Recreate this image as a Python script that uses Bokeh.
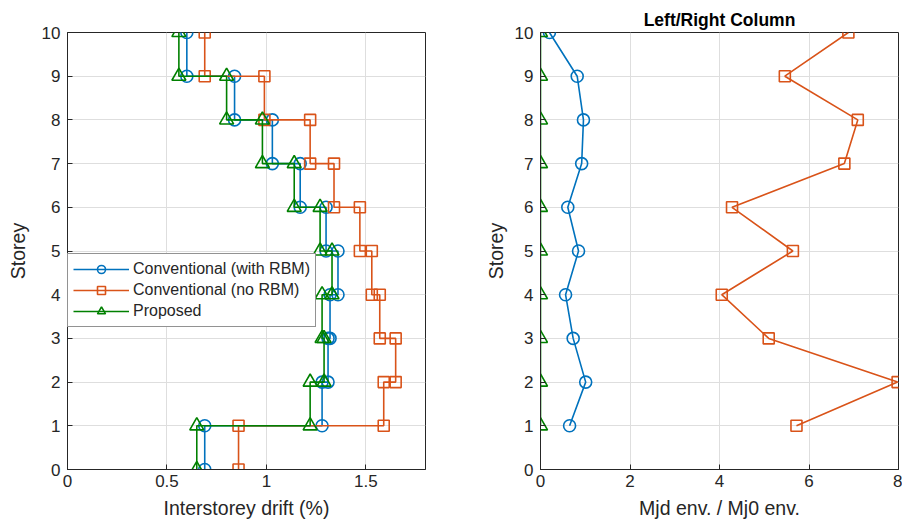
from bokeh.plotting import figure
from bokeh.models import FixedTicker, Legend, LegendItem, Range1d, Title
from bokeh.layouts import row
from bokeh.embed import file_html
from bokeh.resources import INLINE

# ---------------- data ----------------
storeys = list(range(0, 11))
drift_ticks = [0, 0.5, 1, 1.5]
drift_tick_labels = {0: "0", 0.5: "0.5", 1: "1", 1.5: "1.5"}
# interstorey drift (%) of storey segments 1..10
drift_with_rbm = [0.69, 1.28, 1.31, 1.32, 1.36, 1.30, 1.17, 1.03, 0.84, 0.60]
drift_no_rbm = [0.86, 1.59, 1.65, 1.57, 1.53, 1.47, 1.34, 1.22, 0.99, 0.69]
drift_proposed = [0.65, 1.22, 1.29, 1.28, 1.33, 1.27, 1.14, 0.98, 0.80, 0.56]

ratio_storeys = list(range(1, 11))
ratio_ticks = [0, 2, 4, 6, 8]
ratio_with_rbm = [0.65, 1.01, 0.73, 0.56, 0.85, 0.61, 0.92, 0.96, 0.82, 0.20]
ratio_no_rbm = [5.72, 7.98, 5.10, 4.05, 5.64, 4.28, 6.79, 7.09, 5.46, 6.88]
ratio_proposed = [0.0, 0.0, 0.0, 0.0, 0.0, 0.0, 0.0, 0.0, 0.0, 0.0]

series_names = ["Conventional (with RBM)", "Conventional (no RBM)", "Proposed"]
colors = ["#0072BD", "#D95319", "#008000"]
markers = ["circle", "square", "triangle"]
marker_sizes = [12, 11, 14]

FONT = "Liberation Sans"
AX = "#262626"
GRID = "#dedede"


def step_points(drifts):
    xs, ys = [], []
    for i, d in enumerate(drifts):
        xs += [d, d]
        ys += [storeys[i], storeys[i + 1]]
    return xs, ys


def style(p, xticks, xlabel, ylabel_standoff):
    p.xaxis.ticker = FixedTicker(ticks=xticks)
    p.yaxis.ticker = FixedTicker(ticks=storeys)
    for ax in p.xaxis + p.yaxis:
        ax.axis_line_color = AX
        ax.major_tick_line_color = AX
        ax.major_tick_in = 5
        ax.major_tick_out = 0
        ax.minor_tick_line_color = None
        ax.major_label_text_font = FONT
        ax.major_label_text_font_size = "17px"
        ax.major_label_text_color = AX
        ax.axis_label_text_font = FONT
        ax.axis_label_text_font_size = "19.5px"
        ax.axis_label_text_font_style = "normal"
        ax.axis_label_text_color = AX
    p.xaxis.axis_label = xlabel
    p.yaxis.axis_label = "Storey"
    p.xaxis.major_label_standoff = 5
    p.xaxis.axis_label_standoff = 7
    p.yaxis.major_label_standoff = 7
    p.yaxis.axis_label_standoff = ylabel_standoff
    p.xgrid.ticker = FixedTicker(ticks=xticks)
    p.ygrid.ticker = FixedTicker(ticks=storeys)
    p.grid.grid_line_color = GRID
    p.outline_line_color = AX
    p.background_fill_color = "white"
    p.border_fill_color = "white"


# ---------------- left plot ----------------
p1 = figure(width=480, height=525, x_range=Range1d(0, 1.8), y_range=Range1d(0, 10),
            output_backend="svg", toolbar_location=None,
            min_border_left=67, min_border_right=55, min_border_top=32, min_border_bottom=56)
style(p1, drift_ticks, "Interstorey drift (%)", 10)
p1.xaxis[0].major_label_overrides = drift_tick_labels

items = []
for name, data, c, m, s in zip(series_names, [drift_with_rbm, drift_no_rbm, drift_proposed],
                               colors, markers, marker_sizes):
    xs, ys = step_points(data)
    r1 = p1.line(xs, ys, line_color=c, line_width=1.6)
    r2 = p1.scatter(xs, ys, marker=m, size=s, line_color=c, line_width=1.6, fill_color=None)
    items.append(LegendItem(label=name, renderers=[r1, r2]))

legend = Legend(items=items, location=(0, 142), label_text_font=FONT,
                label_text_font_size="16px", label_text_color=AX,
                glyph_width=56, glyph_height=20, label_height=20, label_standoff=4,
                spacing=1, padding=5, margin=0, border_line_color=AX,
                border_line_width=1, background_fill_alpha=1.0)
p1.add_layout(legend, "center")

# ---------------- right plot ----------------
p2 = figure(width=422, height=525, x_range=Range1d(0, 8), y_range=Range1d(0, 10),
            output_backend="svg", toolbar_location=None,
            min_border_left=60, min_border_right=4, min_border_top=32, min_border_bottom=56)
p2.add_layout(Title(text="Left/Right Column", text_font=FONT, text_font_size="17.5px",
                    text_font_style="bold", align="center", text_color="black",
                    standoff=5), "above")
style(p2, ratio_ticks, "Mjd env. / Mj0 env.", 5)

for data, c, m, s in zip([ratio_with_rbm, ratio_no_rbm, ratio_proposed], colors, markers, marker_sizes):
    p2.line(data, ratio_storeys, line_color=c, line_width=1.6)
    p2.scatter(data, ratio_storeys, marker=m, size=s, line_color=c, line_width=1.6, fill_color=None)

layout = row(p1, p2)
open("out.html", "w").write(file_html(layout, INLINE))
